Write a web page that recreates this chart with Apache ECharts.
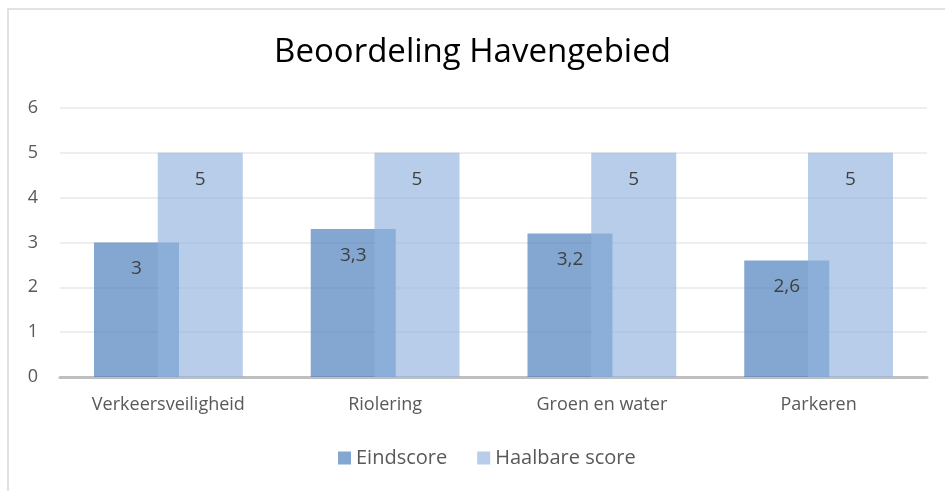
<!DOCTYPE html>
<html>
<head>
<meta charset="utf-8">
<script src="https://cdn.jsdelivr.net/npm/echarts@6/dist/echarts.min.js"></script>
<style>
  html, body { margin: 0; padding: 0; background: #fff; }
  #main { width: 945px; height: 491px; }
</style>
</head>
<body>
<div id="main"></div>
<script>
var categories = ['Verkeersveiligheid', 'Riolering', 'Groen en water', 'Parkeren'];
var eindscore = [3, 3.3, 3.2, 2.6];
var haalbaar = [5, 5, 5, 5];
var yTicks = [0, 1, 2, 3, 4, 5, 6];

var chart = echarts.init(document.getElementById('main'));
var font = 'Open Sans';

function fmt(p) {
  return String(p.value).replace('.', ',');
}

chart.setOption({
  animation: false,
  title: {
    text: 'Beoordeling Havengebied',
    left: 'center',
    top: 31,
    textStyle: { fontFamily: font, fontSize: 33, fontWeight: 'normal', color: '#000' }
  },
  graphic: [{
    type: 'rect',
    shape: { x: 8, y: 9, width: 1000, height: 600 },
    style: { fill: 'none', stroke: '#d9d9d9', lineWidth: 1.5 }
  }],
  legend: {
    bottom: 18,
    left: 333,
    itemWidth: 13,
    itemHeight: 13,
    itemGap: 30,
    icon: 'rect',
    textStyle: { fontFamily: font, fontSize: 20, color: '#595959' },
    data: ['Eindscore', 'Haalbare score']
  },
  grid: { left: 60, right: 18, top: 108, bottom: 114 },
  xAxis: {
    type: 'category',
    data: categories,
    axisTick: { show: false },
    axisLine: { lineStyle: { color: '#bfbfbf', width: 3 } },
    axisLabel: { fontFamily: font, fontSize: 18, color: '#595959', margin: 19 }
  },
  yAxis: {
    type: 'value',
    min: yTicks[0],
    max: yTicks[yTicks.length - 1],
    interval: 1,
    axisLine: { show: false },
    axisTick: { show: false },
    splitLine: { lineStyle: { color: '#eeeeee', width: 2 } },
    axisLabel: { fontFamily: font, fontSize: 18, color: '#595959', margin: 22 }
  },
  series: [{
    name: 'Eindscore',
    type: 'bar',
    data: eindscore,
    barWidth: 85,
    barGap: '-25%',
    itemStyle: { color: 'rgba(79,129,189,0.7)' },
    label: {
      show: true, position: 'insideTop', distance: 17, formatter: fmt,
      fontFamily: font, fontSize: 19, color: '#404040'
    }
  }, {
    name: 'Haalbare score',
    type: 'bar',
    data: haalbaar,
    barWidth: 85,
    barGap: '-25%',
    itemStyle: { color: 'rgba(146,179,223,0.66)' },
    label: {
      show: true, position: 'insideTop', distance: 17, formatter: fmt,
      fontFamily: font, fontSize: 19, color: '#404040'
    }
  }]
});
</script>
</body>
</html>
